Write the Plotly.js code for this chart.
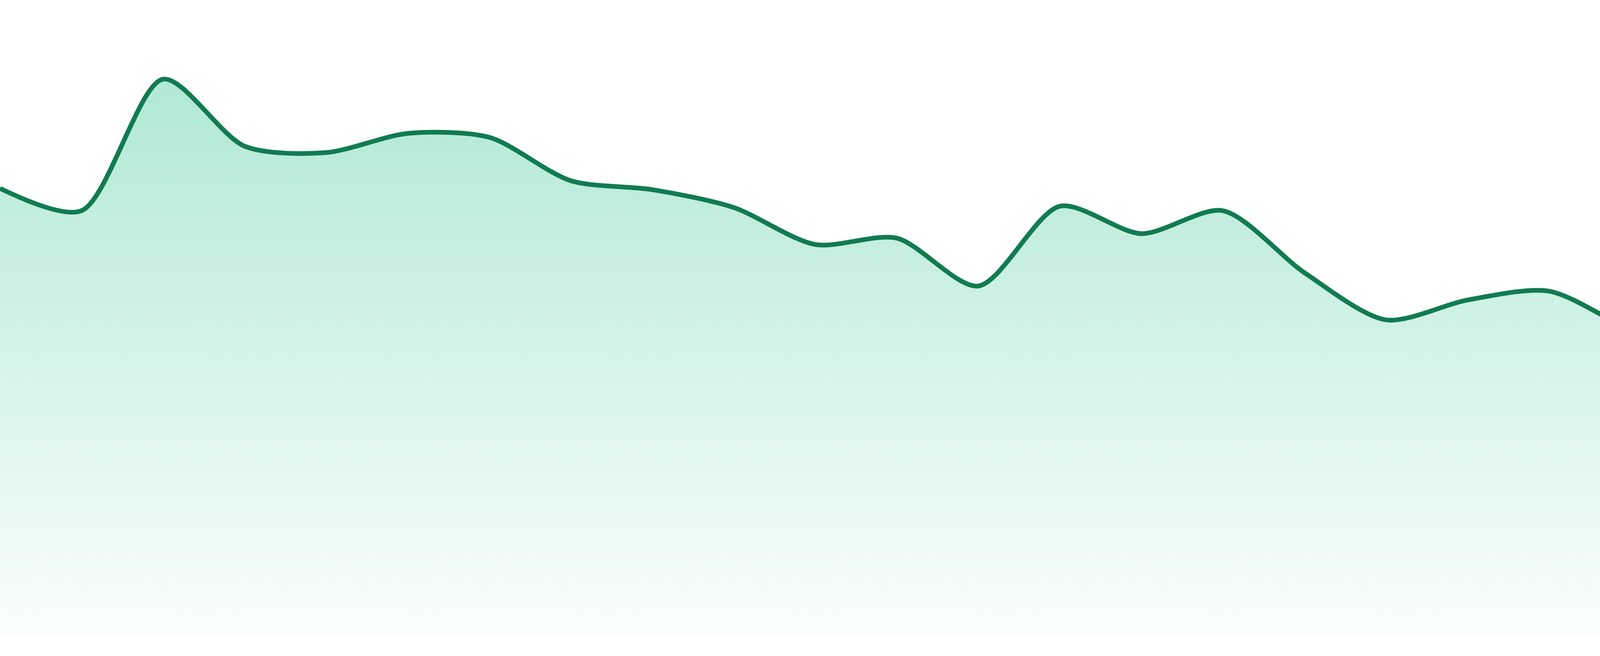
<!DOCTYPE html>
<html>
<head>
<meta charset="utf-8">
<script src="https://cdn.plot.ly/plotly-3.0.1.min.js"></script>
<style>
  html, body { margin: 0; padding: 0; background: #fff; }
  #chart { width: 4800px; height: 1680px; }
</style>
</head>
<body>
<div id="chart"></div>
<script>
// x positions (one per point, no labels shown on the chart)
var steps = [0, 1, 2, 3, 4, 5, 6, 7, 8, 9, 10, 11, 12, 13, 14, 15, 16, 17, 18, 19, 20, 21, 22, 23];

// series values (0-100 scale)
var values = [70.5, 67.0, 87.6, 77.1, 76.1, 79.1, 78.5, 71.7, 70.3, 67.5, 61.7, 62.7,
              55.2, 67.7, 63.4, 67.0, 57.3, 49.9, 53.0, 54.4, 48.3, 43.1, 54.9, 47.1];

var trendTrace = {
  x: steps,
  y: values,
  type: 'scatter',
  mode: 'lines',
  line: { color: '#117b52', width: 12, shape: 'spline', smoothing: 0.8 },
  fill: 'tozeroy',
  fillgradient: {
    type: 'vertical',
    start: 0,
    stop: Math.max.apply(null, values),
    colorscale: [
      [0, 'rgba(16,185,129,0.02)'],
      [1, 'rgba(16,185,129,0.33)']
    ]
  },
  hoverinfo: 'skip'
};

var layout = {
  width: 4800,
  height: 1680,
  margin: { l: 0, r: 0, t: 0, b: 45 },
  paper_bgcolor: '#ffffff',
  plot_bgcolor: '#ffffff',
  showlegend: false,
  xaxis: { range: [0, 23], visible: false, fixedrange: true },
  yaxis: { range: [0, 100], visible: false, fixedrange: true }
};

Plotly.newPlot('chart', [trendTrace], layout, { staticPlot: true, displayModeBar: false });
</script>
</body>
</html>
